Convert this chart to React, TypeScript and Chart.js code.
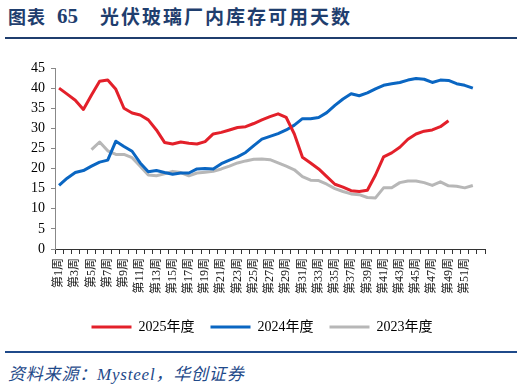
import React, { useEffect, useRef } from "react";
import { Chart, registerables } from "chart.js";

Chart.register(...registerables);

const weeks: string[] = Array.from({ length: 53 }, (_, i) => `第${i + 1}周`);

const series2025: (number | null)[] = [
  40.0, 38.5, 37.0, 34.7, 38.3, 41.7, 42.0, 39.7, 35.0, 33.8,
  33.3, 32.1, 29.6, 26.5, 26.1, 26.6, 26.3, 26.1, 26.7, 28.6,
  29.0, 29.6, 30.2, 30.4, 31.2, 32.1, 32.9, 33.6, 32.7, 28.6,
  22.8, 21.4, 19.9, 18.0, 16.1, 15.4, 14.5, 14.3, 14.6, 18.4,
  22.9, 23.9, 25.3, 27.3, 28.6, 29.3, 29.6, 30.4, 31.9, null,
  null, null, null,
];

const series2024: (number | null)[] = [
  15.8, 17.6, 19.0, 19.5, 20.6, 21.6, 22.1, 26.8, 25.5, 24.3,
  21.4, 19.2, 19.5, 19.0, 18.6, 18.9, 18.9, 19.9, 20.0, 19.9,
  21.2, 22.1, 22.9, 24.0, 25.7, 27.3, 28.0, 28.7, 29.6, 30.8,
  32.4, 32.4, 32.7, 33.9, 35.7, 37.3, 38.6, 38.1, 38.8, 39.8,
  40.7, 41.1, 41.4, 42.0, 42.4, 42.2, 41.4, 42.0, 41.9, 41.1,
  40.7, 40.0, null,
];

const series2023: (number | null)[] = [
  null, null, null, null, 24.7, 26.6, 24.4, 23.5, 23.5, 22.7,
  20.6, 18.4, 18.2, 18.7, 19.3, 19.0, 18.2, 18.9, 19.1, 19.3,
  19.9, 20.6, 21.4, 21.9, 22.3, 22.4, 22.2, 21.4, 20.6, 19.7,
  18.0, 17.1, 17.0, 16.1, 15.0, 14.3, 13.7, 13.5, 12.8, 12.7,
  15.2, 15.2, 16.5, 16.9, 16.9, 16.5, 15.8, 16.7, 15.7, 15.6,
  15.2, 15.8, null,
];

const seriesNames = ["2025年度", "2024年度", "2023年度"];
const seriesColors = ["#E3202A", "#0A66C2", "#B7B7B7"];

const tickFont = '"Liberation Serif", "Noto Sans CJK SC", serif';

export default function App() {
  const canvasRef = useRef<HTMLCanvasElement | null>(null);

  useEffect(() => {
    if (!canvasRef.current) return;
    const all = [series2025, series2024, series2023];
    const chart = new Chart(canvasRef.current, {
      type: "line",
      data: {
        labels: weeks,
        datasets: all.map((d, i) => ({
          label: seriesNames[i],
          data: d,
          borderColor: seriesColors[i],
          backgroundColor: seriesColors[i],
          borderWidth: 3,
          pointRadius: 0,
          tension: 0,
          spanGaps: false,
          borderJoinStyle: "round" as const,
        })),
      },
      options: {
        animation: false,
        responsive: false,
        devicePixelRatio: 1,
        layout: { padding: { left: 0, right: 0, top: 23, bottom: 0 } },
        plugins: {
          tooltip: { enabled: false },
          legend: {
            position: "bottom",
            labels: {
              usePointStyle: true,
              pointStyle: "line",
              pointStyleWidth: 40,
              padding: 16,
              color: "#000",
              font: { family: tickFont, size: 14 },
            },
          },
        },
        scales: {
          x: {
            offset: true,
            grid: {
              offset: true,
              display: true,
              drawOnChartArea: false,
              drawTicks: true,
              tickLength: 5,
              color: "#333",
            },
            border: { display: true, color: "#333", width: 1 },
            ticks: {
              autoSkip: false,
              minRotation: 90,
              maxRotation: 90,
              padding: 4,
              color: "#222",
              font: { family: tickFont, size: 12 },
              callback: (_v: any, i: number) => (i % 2 === 0 && i < 52 ? weeks[i] : ""),
            },
            afterFit: (s: any) => {
              s.height = 55;
            },
          },
          y: {
            min: 0,
            max: 45,
            ticks: {
              stepSize: 5,
              padding: 6,
              color: "#000",
              font: { family: tickFont, size: 14 },
            },
            grid: {
              display: true,
              drawOnChartArea: false,
              drawTicks: true,
              tickLength: 4,
              color: "#888",
            },
            border: { display: true, color: "#888", width: 1 },
            afterFit: (s: any) => {
              s.width = 55;
            },
          },
          yRight: {
            position: "right",
            display: true,
            min: 0,
            max: 45,
            grid: { display: false, drawOnChartArea: false, drawTicks: false },
            border: { display: false },
            ticks: { display: false },
            afterFit: (s: any) => {
              s.width = 39;
            },
          },
        },
      },
    });
    return () => chart.destroy();
  }, []);

  const blue = "#1F3E6E";
  return (
    <div
      style={{
        position: "absolute",
        left: 0,
        top: 0,
        width: 524,
        height: 389,
        background: "#fff",
        overflow: "hidden",
        fontFamily: '"Noto Sans CJK SC", sans-serif',
      }}
    >
      <div
        style={{
          position: "absolute",
          left: 8,
          top: 6,
          fontSize: 18,
          lineHeight: "20px",
          fontWeight: 700,
          color: blue,
          letterSpacing: 1,
          whiteSpace: "nowrap",
        }}
      >
        图表
      </div>
      <div
        style={{
          position: "absolute",
          left: 57,
          top: 5,
          fontSize: 21,
          lineHeight: "22px",
          fontWeight: 700,
          color: blue,
          fontFamily: '"Liberation Serif", serif',
          whiteSpace: "nowrap",
        }}
      >
        65
      </div>
      <div
        style={{
          position: "absolute",
          left: 100,
          top: 6,
          fontSize: 19,
          lineHeight: "20px",
          fontWeight: 700,
          color: blue,
          letterSpacing: 2,
          whiteSpace: "nowrap",
        }}
      >
        光伏玻璃厂内库存可用天数
      </div>
      <div
        style={{
          position: "absolute",
          left: 5,
          top: 37,
          width: 512,
          height: 2,
          background: blue,
        }}
      />
      <canvas
        ref={canvasRef}
        width={524}
        height={299}
        style={{ position: "absolute", left: 0, top: 45, width: 524, height: 299, display: "block" }}
      />
      <div
        style={{
          position: "absolute",
          left: 5,
          top: 351,
          width: 512,
          height: 1.5,
          background: "#1F4A8A",
        }}
      />
      <div
        style={{
          position: "absolute",
          left: 8,
          top: 362,
          fontSize: 17,
          lineHeight: "22px",
          fontStyle: "italic",
          color: "#1F4A8A",
          letterSpacing: 0.8,
          whiteSpace: "nowrap",
        }}
      >
        资料来源：<span style={{ fontFamily: '"Liberation Serif", serif' }}>Mysteel</span>，华创证券
      </div>
    </div>
  );
}
